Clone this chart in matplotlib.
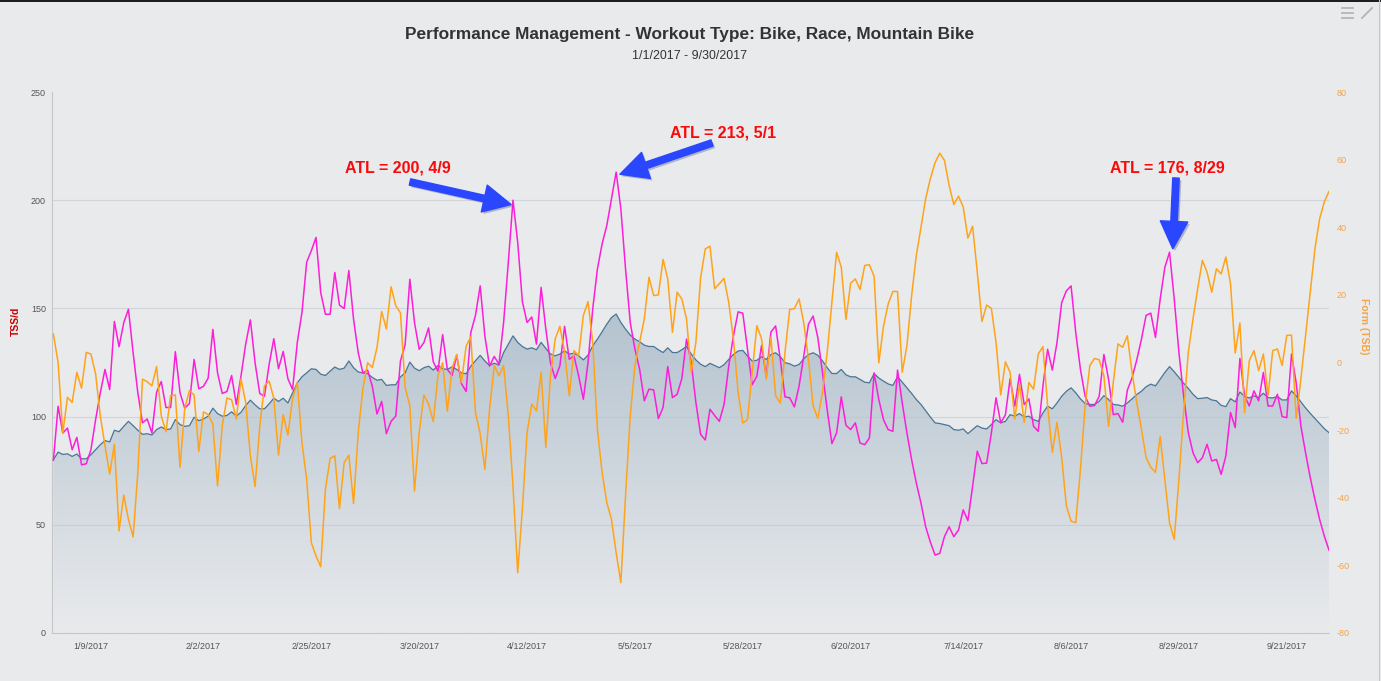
import numpy as np
import pandas as pd
import matplotlib
matplotlib.use('Agg')
import matplotlib.pyplot as plt
import matplotlib.dates as mdates
import matplotlib.patheffects as pe
from matplotlib.lines import Line2D
from matplotlib.patches import Rectangle

plt.rcParams['font.family'] = ['Liberation Sans', 'DejaVu Sans']
plt.rcParams['axes.unicode_minus'] = False

######################################
# daily values 1/1/2017 - 9/30/2017
dates = pd.date_range('2017-01-01', '2017-09-30', freq='D')

# ATL (fatigue), TSS/d
atl = [
    79.8, 104.8, 92.4, 94.7, 84.7, 90.4, 77.7, 78.2, 84.7, 98.6,
    111.0, 121.8, 112.5, 144.0, 132.3, 143.4, 149.6, 129.5, 111.0, 97.1,
    98.9, 92.4, 111.3, 116.2, 104.2, 104.2, 130.0, 111.0, 103.9, 106.0,
    126.4, 112.8, 114.0, 117.8, 140.3, 120.2, 110.7, 111.6, 119.0, 105.6,
    118.7, 133.5, 144.7, 124.9, 110.7, 109.4, 124.1, 136.0, 122.1, 130.1,
    117.5, 112.5, 134.2, 148.1, 171.3, 176.7, 182.8, 157.3, 147.3, 147.3,
    166.6, 151.5, 149.9, 167.5, 145.0, 129.5, 120.2, 121.5, 114.0, 101.2,
    107.0, 92.1, 97.8, 100.2, 125.7, 133.2, 163.5, 143.4, 131.1, 134.2,
    141.0, 125.3, 121.0, 137.9, 121.8, 119.0, 128.3, 115.3, 111.6, 138.8,
    146.8, 160.4, 137.2, 123.3, 127.8, 124.2, 143.5, 171.3, 200.0, 180.6,
    153.1, 143.5, 146.0, 133.5, 159.7, 140.4, 124.7, 117.6, 123.5, 141.7,
    126.5, 128.1, 118.8, 108.0, 125.0, 149.7, 168.2, 179.8, 188.3, 200.6,
    213.0, 196.0, 168.2, 143.5, 131.2, 121.9, 107.3, 112.7, 112.3, 99.1,
    104.2, 123.1, 108.8, 110.3, 117.6, 135.8, 125.0, 106.5, 91.8, 89.2,
    103.4, 100.5, 97.8, 105.6, 123.3, 137.2, 148.4, 147.8, 131.1, 114.7,
    118.7, 132.9, 118.4, 139.1, 141.9, 126.4, 109.1, 108.7, 104.5, 114.1,
    128.0, 142.7, 146.5, 136.5, 120.2, 103.2, 87.5, 92.4, 109.1, 96.0,
    94.0, 97.1, 87.8, 87.0, 90.1, 120.2, 107.9, 98.6, 94.0, 93.2,
    121.5, 106.3, 92.4, 80.1, 69.3, 60.0, 49.0, 42.0, 36.0, 36.8,
    44.5, 49.1, 44.5, 47.6, 56.9, 51.9, 67.7, 84.0, 78.3, 78.5,
    92.4, 108.7, 97.1, 100.8, 117.5, 104.8, 119.5, 105.6, 108.2, 95.5,
    93.2, 114.1, 131.1, 121.5, 134.2, 152.7, 158.1, 160.4, 138.8, 121.8,
    109.4, 104.8, 105.1, 109.4, 128.7, 117.2, 100.9, 101.4, 97.4, 112.2,
    117.9, 126.1, 135.7, 146.8, 147.8, 136.6, 154.3, 169.0, 176.0, 154.3,
    129.6, 109.6, 92.6, 83.3, 78.7, 81.0, 87.2, 79.5, 80.2, 73.3,
    81.8, 101.9, 94.9, 126.9, 109.6, 104.9, 111.9, 107.3, 120.4, 104.9,
    104.9, 110.3, 100.0, 99.5, 128.9, 115.7, 95.7, 83.3, 71.8, 61.7,
    52.5, 44.8, 38.3]

# CTL (fitness), TSS/d - drawn as the shaded area
ctl = [
    80.1, 83.6, 82.5, 82.8, 81.6, 82.7, 80.5, 80.5, 82.4, 84.7,
    87.0, 88.9, 88.3, 93.7, 93.0, 95.5, 97.8, 95.8, 93.7, 91.8,
    92.1, 91.5, 94.0, 95.2, 94.0, 94.3, 98.6, 96.3, 95.5, 95.8,
    99.7, 98.1, 98.9, 100.2, 103.9, 101.4, 100.2, 100.5, 102.2, 100.2,
    102.0, 105.1, 107.6, 105.4, 103.6, 103.6, 105.9, 108.5, 107.0, 108.5,
    106.3, 111.0, 115.6, 118.4, 120.2, 122.1, 121.8, 119.6, 119.0, 121.0,
    122.9, 121.8, 122.4, 125.7, 122.6, 120.6, 120.2, 119.9, 118.1, 116.8,
    117.2, 114.4, 114.7, 114.7, 118.4, 120.2, 125.2, 122.4, 121.2, 122.6,
    123.3, 121.5, 123.6, 122.1, 121.8, 123.0, 121.8, 120.2, 119.8, 123.3,
    125.8, 128.3, 125.7, 123.6, 124.7, 123.8, 129.6, 133.5, 137.3, 134.3,
    132.4, 131.2, 131.8, 130.9, 134.3, 131.5, 128.9, 128.1, 128.9, 130.4,
    128.9, 129.3, 128.1, 126.2, 128.4, 132.7, 135.8, 139.2, 142.7, 145.8,
    147.4, 143.5, 140.4, 137.7, 135.8, 134.6, 133.0, 132.4, 132.4, 130.9,
    129.6, 131.8, 129.6, 129.6, 130.9, 132.4, 128.9, 126.2, 124.2, 123.1,
    124.6, 123.6, 122.6, 124.0, 126.4, 128.7, 130.3, 130.6, 128.0, 125.7,
    126.0, 127.7, 126.4, 128.7, 129.5, 127.7, 124.9, 124.4, 123.3, 124.1,
    126.7, 128.7, 129.5, 128.3, 125.7, 122.6, 119.9, 119.9, 121.8, 119.3,
    118.4, 118.4, 117.2, 115.9, 115.6, 119.9, 117.8, 116.4, 115.1, 114.4,
    118.4, 115.9, 113.3, 110.7, 107.9, 105.6, 102.7, 99.8, 97.1, 96.8,
    96.3, 95.8, 94.0, 93.7, 94.3, 92.1, 94.0, 95.8, 94.7, 94.3,
    96.3, 98.6, 97.1, 97.8, 100.9, 100.2, 101.4, 99.8, 100.2, 98.6,
    97.8, 101.7, 104.8, 103.6, 106.3, 109.4, 111.7, 113.3, 111.0, 108.2,
    106.0, 105.6, 105.6, 107.1, 109.7, 107.9, 105.6, 105.4, 104.8, 106.3,
    108.2, 110.2, 111.7, 113.8, 115.0, 114.2, 117.3, 120.4, 123.1, 120.7,
    118.1, 115.4, 113.0, 110.3, 108.3, 108.5, 108.8, 107.7, 107.3, 105.2,
    104.6, 108.3, 106.8, 111.4, 109.3, 108.6, 109.6, 108.8, 110.8, 108.8,
    108.6, 109.3, 107.7, 107.7, 111.9, 109.6, 106.8, 104.0, 101.5, 99.1,
    96.8, 94.4, 92.6]

# TSB (form), right axis
tsb = [
    8.4, 0.0, -20.9, -10.3, -11.8, -2.9, -7.6, 3.0, 2.5, -3.4,
    -15.8, -24.6, -33.0, -24.2, -49.8, -39.2, -46.4, -51.6, -32.5, -4.9,
    -5.7, -6.9, -1.2, -15.8, -20.5, -9.8, -9.6, -31.0, -13.6, -8.3,
    -9.6, -26.3, -14.6, -15.4, -18.2, -36.5, -18.7, -10.5, -11.0, -16.7,
    -4.9, -11.8, -27.6, -36.7, -19.0, -6.9, -5.5, -10.6, -27.4, -15.4,
    -21.5, -10.6, -5.9, -23.7, -34.5, -53.3, -57.2, -60.4, -37.5, -28.4,
    -27.6, -43.2, -29.6, -27.4, -41.7, -20.7, -7.7, -0.1, -1.5, 4.4,
    15.1, 9.9, 22.4, 16.8, 14.7, -7.4, -12.8, -38.0, -20.7, -9.6,
    -12.3, -17.5, -3.9, -0.1, -14.4, -1.7, 2.4, -5.9, 4.8, 7.6,
    -14.8, -21.0, -31.6, -13.8, -0.9, -3.9, -0.9, -15.8, -36.5, -62.2,
    -43.4, -20.7, -12.3, -14.3, -2.9, -25.1, -3.9, 7.0, 10.7, 3.0,
    -9.8, 3.5, 2.0, 13.9, 18.0, 6.0, -19.7, -32.5, -41.4, -46.4,
    -56.3, -65.1, -39.4, -15.8, -0.9, 6.0, 12.9, 25.2, 19.8, 20.0,
    30.5, 24.7, 8.9, 20.8, 18.8, 12.9, -2.9, 6.0, 25.0, 33.6,
    34.4, 21.8, 23.3, 24.9, 17.8, 7.0, -8.8, -17.9, -16.9, -2.9,
    10.9, 7.0, -4.9, 7.5, -9.8, -12.0, 3.0, 15.7, 15.9, 18.8,
    11.7, 1.0, -12.8, -16.5, -8.8, 3.0, 17.8, 32.6, 28.2, 12.7,
    23.5, 24.7, 21.6, 28.7, 28.9, 25.5, -0.1, 10.7, 17.3, 21.0,
    21.0, -2.9, 5.0, 19.8, 31.7, 40.0, 48.5, 54.4, 59.1, 61.9,
    59.8, 52.4, 46.7, 49.2, 46.0, 36.8, 40.3, 26.7, 12.1, 17.0,
    16.0, 6.0, -9.6, 0.2, -2.9, -16.7, -6.4, -17.7, -5.9, -7.9,
    2.5, 4.7, -12.8, -26.6, -17.7, -28.1, -42.4, -46.9, -47.4, -31.6,
    -12.8, -0.9, 1.2, 0.8, -3.9, -18.9, -5.9, 5.5, 4.5, 7.9,
    -2.9, -11.8, -19.7, -28.1, -31.0, -32.5, -21.9, -34.5, -47.4, -52.3,
    -34.5, -14.8, 3.0, 12.9, 21.8, 30.2, 26.7, 20.8, 27.7, 26.2,
    31.2, 23.3, 2.8, 11.7, -14.8, 0.5, 3.5, -2.4, 2.5, -9.8,
    3.5, 4.0, -0.9, 8.0, 8.1, -16.5, -4.9, 8.0, 20.8, 33.6,
    42.5, 47.5, 50.6]

tickDates = ['2017-01-09', '2017-02-02', '2017-02-25', '2017-03-20', '2017-04-12', '2017-05-05',
             '2017-05-28', '2017-06-20', '2017-07-14', '2017-08-06', '2017-08-29', '2017-09-21']
tickLabels = ['1/9/2017', '2/2/2017', '2/25/2017', '3/20/2017', '4/12/2017', '5/5/2017',
              '5/28/2017', '6/20/2017', '7/14/2017', '8/6/2017', '8/29/2017', '9/21/2017']

# annotated ATL peaks: label, day index of peak
peakLabels = ['ATL = 200, 4/9', 'ATL = 213, 5/1', 'ATL = 176, 8/29']
peakIdx = [98, 120, 238]
######################################

W, H = 1381, 681
bg = '#e9eaec'
magenta = '#fb1fd9'
orange = '#ffa31a'
ctlColor = '#4a7596'

fig = plt.figure(figsize=(W / 100, H / 100), dpi=100, facecolor=bg)
ax = fig.add_axes([52 / W, 1 - 633 / H, (1329 - 52) / W, (633 - 92) / H])
ax.set_facecolor(bg)

x = mdates.date2num(dates)

#### CTL AREA WITH GRADIENT (opaque blend of bg -> steel blue)
poly = ax.fill_between(x, 0, ctl, facecolor='none', edgecolor='none')
top = max(ctl)
n = 256
bgRGB = np.array([233, 234, 236]) / 255
blue = np.array([74, 117, 150]) / 255
t = np.linspace(0.0, 0.33, n)[:, None]
grad = np.ones((n, 1, 4))
grad[:, 0, :3] = bgRGB * (1 - t) + blue * t
im = ax.imshow(grad, extent=[x[0], x[-1], 0, top], origin='lower', aspect='auto',
               interpolation='bilinear', zorder=1)
im.set_clip_path(poly.get_paths()[0], transform=ax.transData)

#### GRID (no line at the top), faint over the area
for g in [50, 100, 150, 200]:
    ax.axhline(g, color='#bfc3c8', lw=0.8, alpha=0.55, zorder=2)

ax.plot(x, ctl, color=ctlColor, lw=0.9, zorder=3)

#### ATL
ax.plot(x, atl, color=magenta, lw=1.1, zorder=4)

ax.set_xlim(x[0] - 0.3, x[-1])
ax.set_ylim(0, 250)
ax.set_yticks(range(0, 251, 50))
ax.set_xticks(mdates.date2num(pd.to_datetime(tickDates)))
ax.set_xticklabels(tickLabels)
ax.tick_params(axis='y', length=0, pad=4.3, labelsize=6.5, labelcolor='#555555')
ax.tick_params(axis='x', length=0, pad=6.5, labelsize=6.5, labelcolor='#555555')
for s in ['top', 'right']:
    ax.spines[s].set_visible(False)
for s in ['left', 'bottom']:
    ax.spines[s].set_color('#c4c6c8')
    ax.spines[s].set_linewidth(0.8)

#### TSB ON RIGHT AXIS
ax2 = ax.twinx()
ax2.plot(x, tsb, color=orange, lw=1.1, zorder=5)
ax2.set_ylim(-80, 80)
ax2.set_yticks(range(-80, 81, 20))
ax2.tick_params(axis='y', length=0, pad=5.5, labelsize=6.5, labelcolor='#f5a34a')
for s in ax2.spines.values():
    s.set_visible(False)
ax2.set_xlim(x[0] - 0.3, x[-1])

#### TITLES
fig.text(690 / W, 1 - 34 / H, 'Performance Management - Workout Type: Bike, Race, Mountain Bike',
         ha='center', va='center', fontsize=12.4, fontweight='bold', color='#333333')
fig.text(690 / W, 1 - 56 / H, '1/1/2017 - 9/30/2017', ha='center', va='center',
         fontsize=8.9, color='#333333')
fig.text(16 / W, 1 - 321 / H, 'TSS/d', rotation=90, ha='center', va='center',
         fontsize=7.5, fontweight='bold', color='#cc0000')
fig.text(1364 / W, 1 - 326 / H, 'Form (TSB)', rotation=270, ha='center', va='center',
         fontsize=7.5, fontweight='bold', color='#f5a34a')

#### ANNOTATIONS
textPos = [(398, 168), (723, 133), (1167, 168)]
tailPos = [(410, 182), (712, 143), (1176, 178)]
tipShift = [(-0.4, -2), (0.8, -1), (0.7, 1.5)]
for lab, i, tp, tl, sh in zip(peakLabels, peakIdx, textPos, tailPos, tipShift):
    fig.text(tp[0] / W, 1 - tp[1] / H, lab, ha='center', va='center',
             fontsize=11.5, fontweight='bold', color='#fa0a0a')
    a = ax.annotate('', xy=(x[i] + sh[0], atl[i] + sh[1]), xycoords='data',
                    xytext=(tl[0], H - tl[1]), textcoords='figure pixels',
                    annotation_clip=False,
                    arrowprops=dict(arrowstyle='simple,head_length=1.1,head_width=1.1,tail_width=0.26',
                                    color='#2a46ff', shrinkA=0, shrinkB=0, mutation_scale=18))
    a.arrow_patch.set_path_effects([pe.withSimplePatchShadow(offset=(1.5, -1.5), alpha=0.25)])
    a.set_zorder(10)

#### CHROME: top strip, menu icons, right edge
fig.add_artist(Rectangle((0, 1 - 2 / H), 1, 2 / H, transform=fig.transFigure,
                         facecolor='#1e1e1e', edgecolor='none'))
for yy in [8, 13, 18]:
    fig.add_artist(Line2D([1342 / W, 1353 / W], [1 - yy / H, 1 - yy / H], color='#b3b5b8', lw=1.3))
fig.add_artist(Line2D([1362 / W, 1372 / W], [1 - 18 / H, 1 - 8 / H], color='#b3b5b8', lw=1.3))
fig.add_artist(Line2D([1378.5 / W, 1378.5 / W], [0, 1], color='#c8c9cb', lw=0.8))

plt.savefig('out.png', dpi=100, facecolor=bg)
